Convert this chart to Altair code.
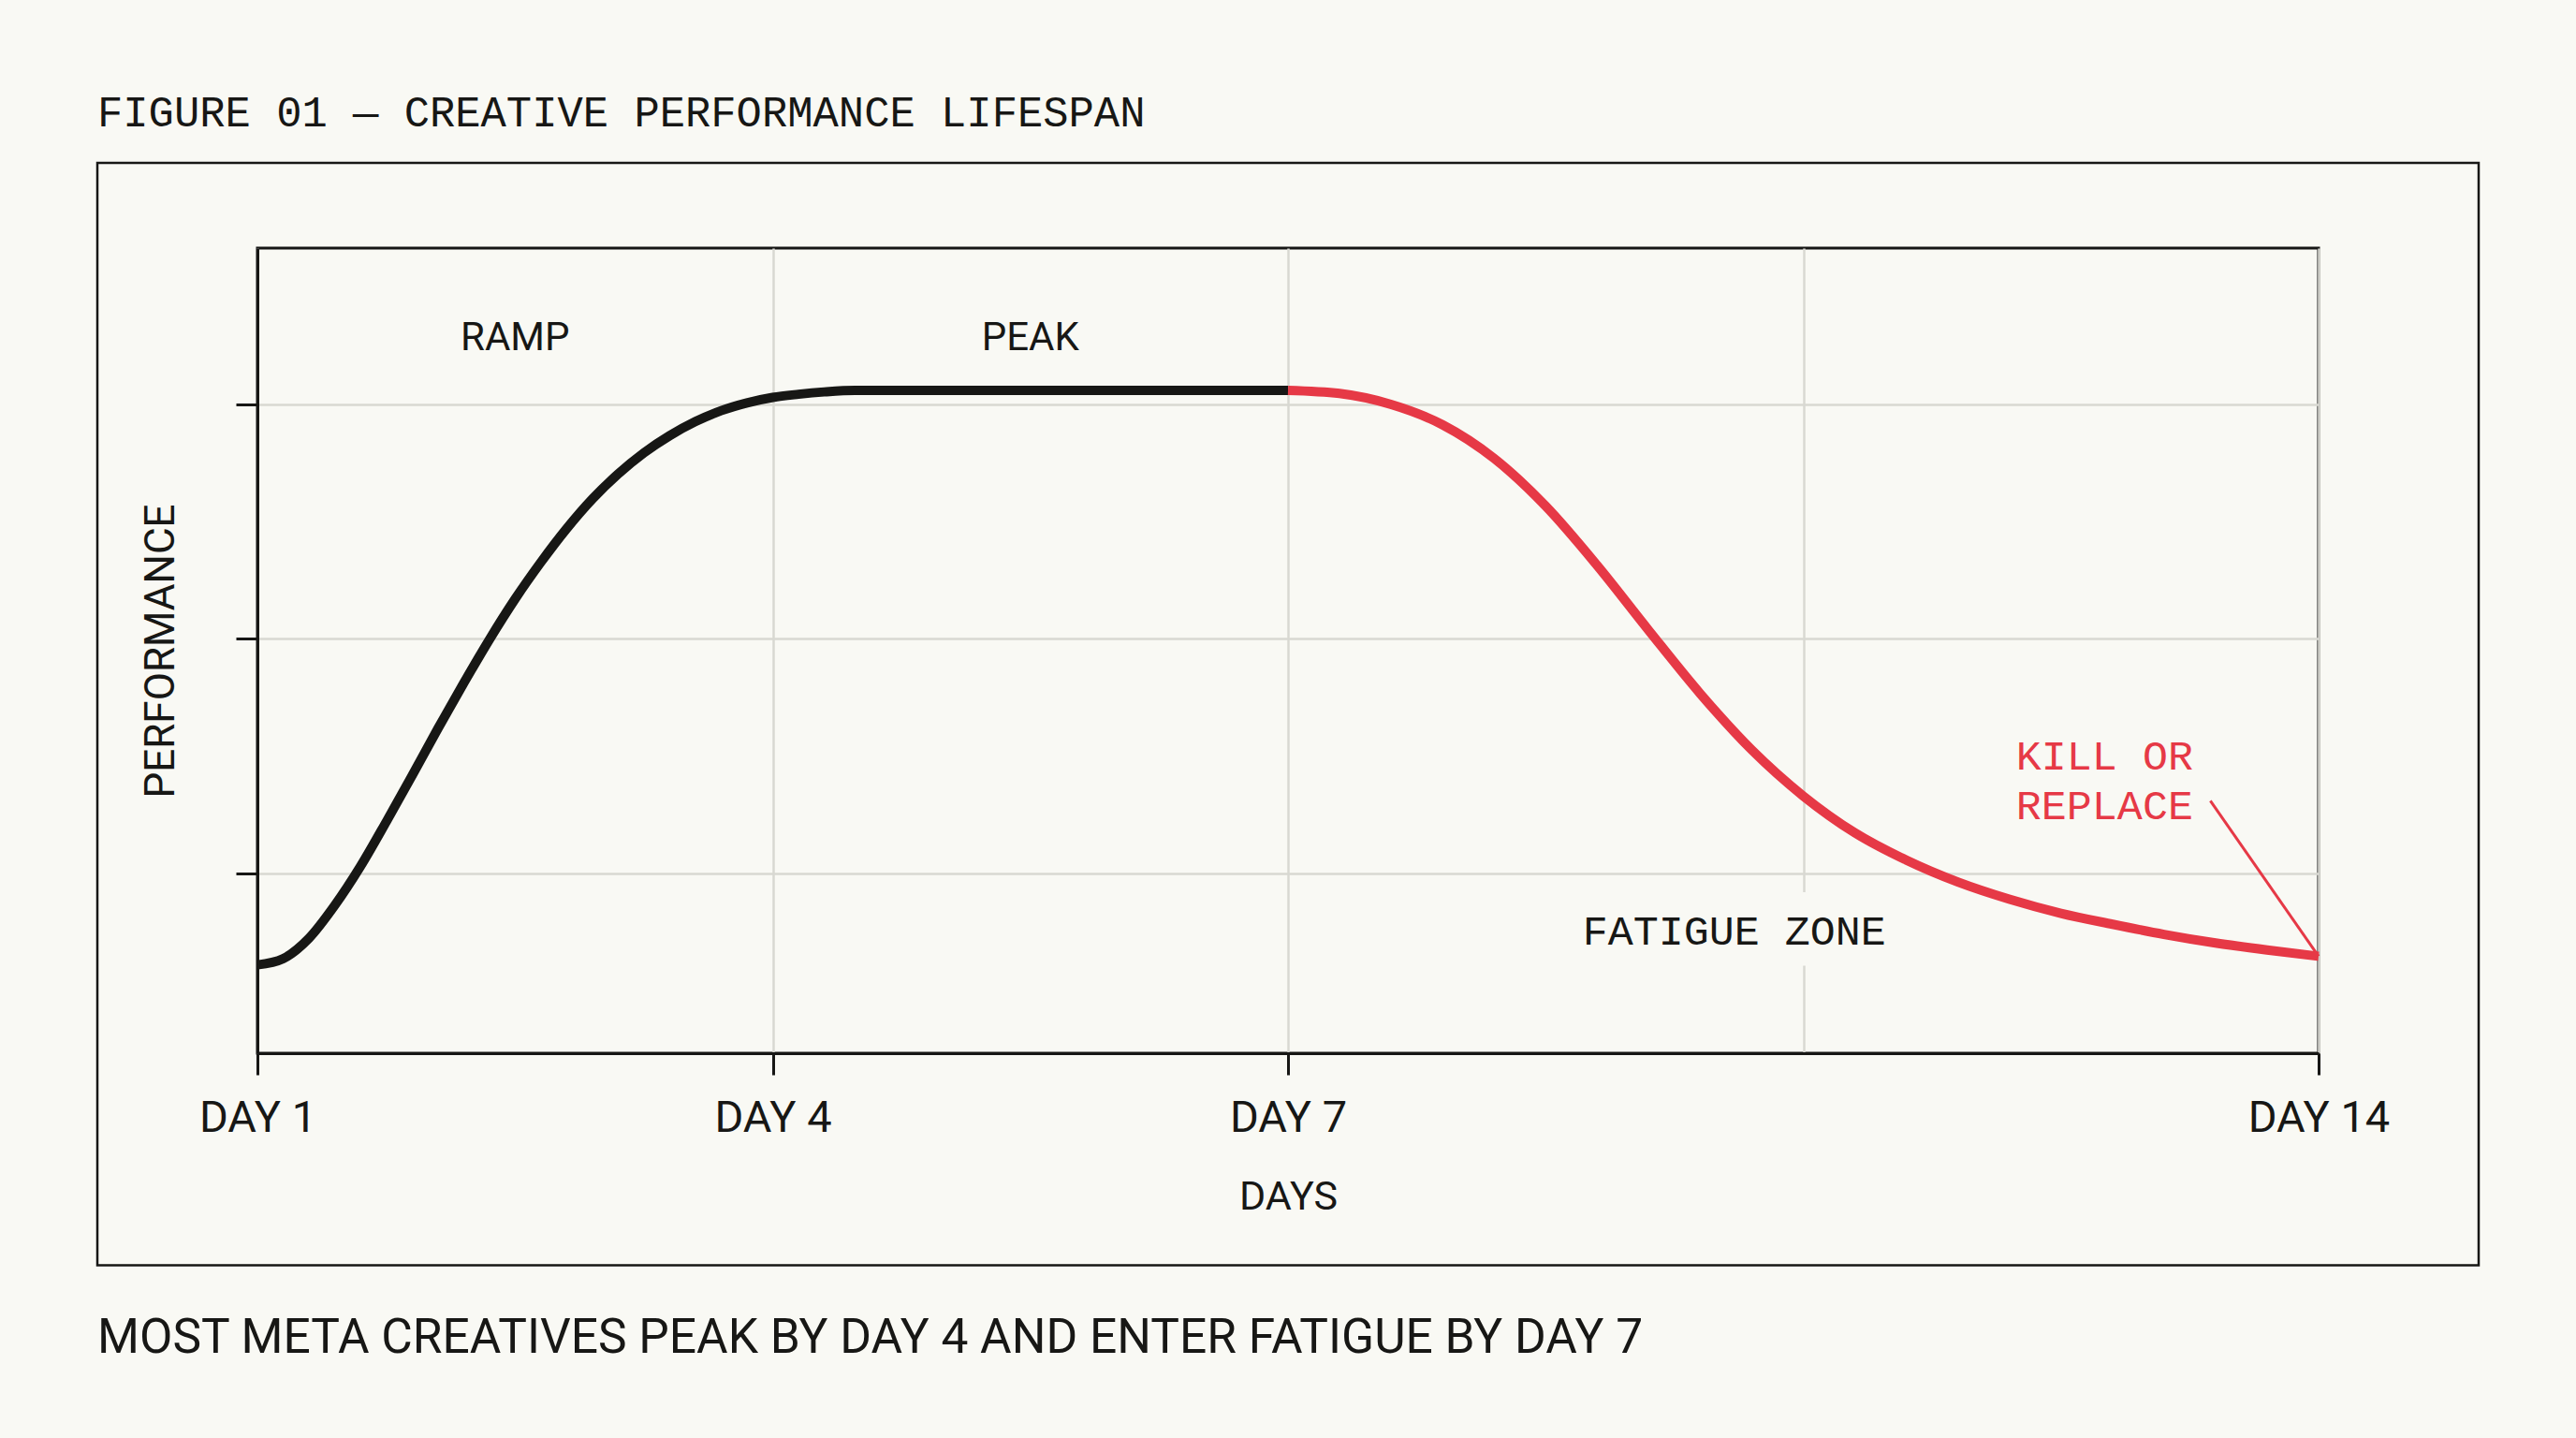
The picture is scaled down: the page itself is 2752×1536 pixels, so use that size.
import json

import altair as alt
import pandas as pd

# ---------------- text ----------------
TITLE = "FIGURE 01 \u2014 CREATIVE PERFORMANCE LIFESPAN"
SUBTITLE = "MOST META CREATIVES PEAK BY DAY 4 AND ENTER FATIGUE BY DAY 7"
X_TITLE = "DAYS"
Y_TITLE = "PERFORMANCE"

# ---------------- axes ----------------
# evenly spaced stops along the flight; the fourth stop carries no label
STOPS = [0, 1, 2, 3, 4]
STOP_LABELS = ["DAY 1", "DAY 4", "DAY 7", "", "DAY 14"]
PERF_TICKS = [20, 50, 80]
PERF_DOMAIN = [-3, 100]

# ---------------- performance curve ----------------
GROWTH_T = [0.00, 0.05, 0.10, 0.15, 0.20, 0.25, 0.30, 0.35, 0.40, 0.45,
            0.50, 0.55, 0.60, 0.65, 0.70, 0.75, 0.80, 0.85, 0.90, 0.95,
            1.00, 1.05, 1.10, 1.16, 2.00]
GROWTH_V = [8.3, 9.1, 11.7, 15.9, 20.9, 26.6, 32.5, 38.5, 44.3, 49.9,
            55.1, 59.8, 64.1, 67.9, 71.1, 73.8, 76.0, 77.8, 79.2, 80.2,
            80.9, 81.3, 81.6, 81.8, 81.8]

FATIGUE_T = [2.0, 2.1, 2.2, 2.3, 2.4, 2.5, 2.6, 2.7, 2.8, 2.9, 3.0,
             3.1, 3.2, 3.3, 3.4, 3.5, 3.6, 3.7, 3.8, 3.9, 4.0]
FATIGUE_V = [81.8, 81.4, 80.0, 77.4, 73.1, 67.0, 59.4, 51.1, 43.0, 35.8, 29.9,
             25.2, 21.7, 18.9, 16.7, 14.9, 13.5, 12.2, 11.1, 10.2, 9.4]

# ---------------- annotations ----------------
PHASE_TEXT = ["RAMP", "PEAK"]
PHASE_T = [0.5, 1.5]
PHASE_V = [87, 87]

ZONE_TEXT = "FATIGUE ZONE"
ZONE_T, ZONE_V = 2.866, 10.9
ZONE_BOX_T = [2.55, 3.18]
ZONE_BOX_V = [8.2, 17.6]

KILL_TEXT = "KILL OR\nREPLACE"
KILL_T, KILL_V = 3.413, 33.3
POINTER_T = [3.79, 4.0]
POINTER_V = [29.3, 9.4]

# ---------------- style ----------------
BG = "#f9f9f4"
INK = "#171715"
RED = "#e63946"
GRID = "#d8d8d2"
MONO = "Liberation Mono"
SANS = "Roboto"

W, H = 2202, 860
PAD = {"left": 275, "top": 265, "right": 275, "bottom": 411}

x_scale = alt.Scale(domain=[STOPS[0], STOPS[-1]], nice=False, zero=False)
y_scale = alt.Scale(domain=PERF_DOMAIN, nice=False, zero=False)

label_expr = json.dumps(STOP_LABELS) + "[datum.value]"

x_axis = alt.Axis(
    values=STOPS,
    labelExpr=label_expr,
    title=X_TITLE,
    grid=True,
    gridColor=GRID,
    gridWidth=2.5,
    domainColor=INK,
    domainWidth=3,
    tickColor={"condition": {"test": "datum.value === 3", "value": "transparent"}, "value": INK},
    tickWidth=3,
    tickSize=23,
    labelFont=SANS,
    labelFontSize=47,
    labelColor=INK,
    labelBaseline="alphabetic",
    labelPadding=60,
    labelFlush=False,
    labelOverlap=False,
    titleFont=SANS,
    titleFontSize=43,
    titleFontWeight="normal",
    titleColor=INK,
    titleBaseline="alphabetic",
    titleX=W / 2,
    titleY=166,
)

y_axis = alt.Axis(
    values=PERF_TICKS,
    labels=False,
    title=Y_TITLE,
    grid=True,
    gridColor=GRID,
    gridWidth=2.5,
    domainColor=INK,
    domainWidth=3,
    tickColor=INK,
    tickWidth=3,
    tickSize=23,
    titleFont=SANS,
    titleFontSize=44,
    titleFontWeight="normal",
    titleColor=INK,
    titleAngle=-90,
    titleAlign="center",
    titleBaseline="alphabetic",
    titleX=-90,
    titleY=H / 2,
)

curve = pd.DataFrame(
    {
        "t": GROWTH_T + FATIGUE_T,
        "v": GROWTH_V + FATIGUE_V,
        "phase": ["growth"] * len(GROWTH_T) + ["fatigue"] * len(FATIGUE_T),
        "order": list(range(len(GROWTH_T) + len(FATIGUE_T))),
    }
)

line = (
    alt.Chart(curve)
    .mark_line(strokeWidth=10, interpolate="monotone", strokeCap="butt", strokeJoin="round")
    .encode(
        x=alt.X("t:Q", scale=x_scale, axis=x_axis),
        y=alt.Y("v:Q", scale=y_scale, axis=y_axis),
        color=alt.Color(
            "phase:N",
            scale=alt.Scale(domain=["growth", "fatigue"], range=[INK, RED]),
            legend=None,
        ),
        order="order:Q",
    )
)

phases = (
    alt.Chart(pd.DataFrame({"t": PHASE_T, "v": PHASE_V, "label": PHASE_TEXT}))
    .mark_text(font=SANS, fontSize=42, color=INK, align="center", baseline="alphabetic")
    .encode(x=alt.X("t:Q", scale=x_scale), y=alt.Y("v:Q", scale=y_scale), text="label:N")
)

zone_box = (
    alt.Chart(pd.DataFrame({"t": [ZONE_BOX_T[0]], "t2": [ZONE_BOX_T[1]],
                            "v": [ZONE_BOX_V[0]], "v2": [ZONE_BOX_V[1]]}))
    .mark_rect(color=BG)
    .encode(x=alt.X("t:Q", scale=x_scale), x2="t2:Q",
            y=alt.Y("v:Q", scale=y_scale), y2="v2:Q")
)

zone_label = (
    alt.Chart(pd.DataFrame({"t": [ZONE_T], "v": [ZONE_V], "label": [ZONE_TEXT]}))
    .mark_text(font=MONO, fontSize=45, color=INK, align="center", baseline="alphabetic")
    .encode(x=alt.X("t:Q", scale=x_scale), y=alt.Y("v:Q", scale=y_scale), text="label:N")
)

kill_label = (
    alt.Chart(pd.DataFrame({"t": [KILL_T], "v": [KILL_V], "label": [KILL_TEXT]}))
    .mark_text(font=MONO, fontSize=45, color=RED, align="left", baseline="alphabetic",
               lineBreak="\n", lineHeight=53)
    .encode(x=alt.X("t:Q", scale=x_scale), y=alt.Y("v:Q", scale=y_scale), text="label:N")
)

pointer = (
    alt.Chart(pd.DataFrame({"t": [POINTER_T[0]], "t2": [POINTER_T[1]],
                            "v": [POINTER_V[0]], "v2": [POINTER_V[1]]}))
    .mark_rule(color=RED, strokeWidth=3)
    .encode(x=alt.X("t:Q", scale=x_scale), x2="t2:Q",
            y=alt.Y("v:Q", scale=y_scale), y2="v2:Q")
)

# outer frame around the figure
frame = (
    alt.Chart(pd.DataFrame({"k": [0]}))
    .mark_rect(fill=None, stroke=INK, strokeWidth=2.5)
    .encode(x=alt.value(-171), x2=alt.value(2373), y=alt.value(-91), y2=alt.value(1086.5))
)

title = (
    alt.Chart(pd.DataFrame({"label": [TITLE]}))
    .mark_text(font=MONO, fontSize=45.5, color=INK, align="left", baseline="alphabetic")
    .encode(text="label:N", x=alt.value(-171), y=alt.value(-130))
)

subtitle = (
    alt.Chart(pd.DataFrame({"label": [SUBTITLE]}))
    .mark_text(font=SANS, fontSize=51.5, color=INK, align="left", baseline="alphabetic")
    .encode(text="label:N", x=alt.value(-171), y=alt.value(1180))
)

chart = (
    alt.layer(frame, zone_box, line, pointer, phases, zone_label, kill_label, title, subtitle)
    .properties(
        width=W,
        height=H,
        padding=PAD,
        autosize=alt.AutoSizeParams(type="none"),
        background=BG,
    )
    .configure_view(stroke=INK, strokeWidth=3, fill=BG)
)

chart.save("out.html", embed_options={"renderer": "svg", "actions": False})
